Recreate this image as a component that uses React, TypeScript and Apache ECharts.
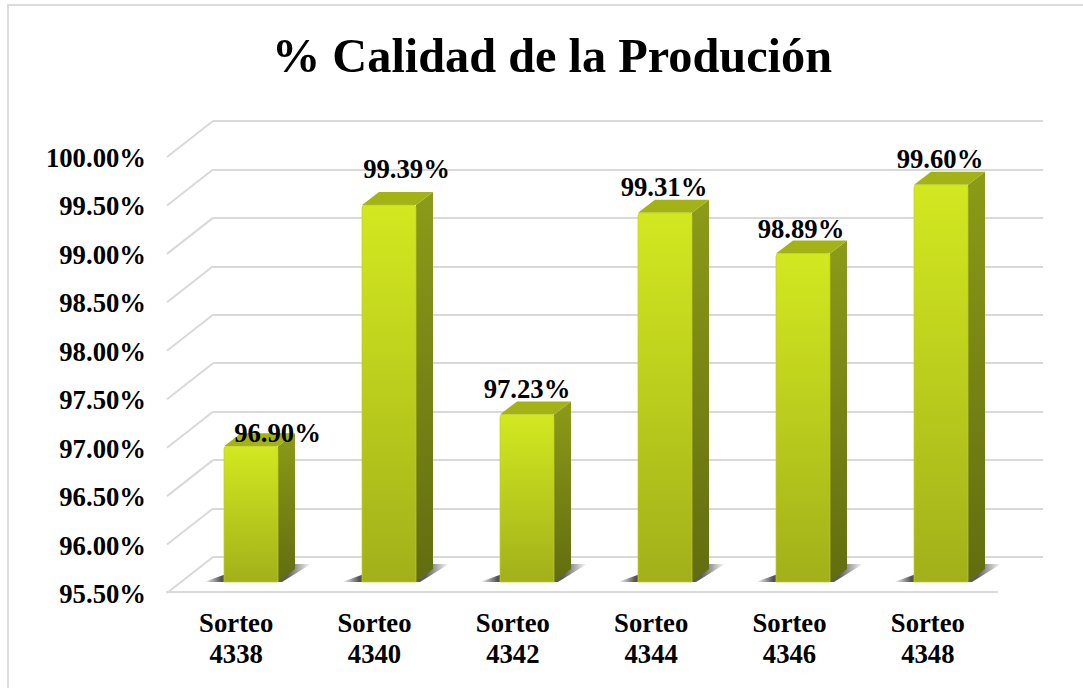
import React, { useEffect, useRef } from "react";
import * as echarts from "echarts";

const titleText = "% Calidad de la Produción";
const categories = ["Sorteo\n4338", "Sorteo\n4340", "Sorteo\n4342", "Sorteo\n4344", "Sorteo\n4346", "Sorteo\n4348"];
const quality = [96.9, 99.39, 97.23, 99.31, 98.89, 99.6];
const valueLabels = ["96.90%", "99.39%", "97.23%", "99.31%", "98.89%", "99.60%"];
const gridTicks = [95.5, 96, 96.5, 97, 97.5, 98, 98.5, 99, 99.5, 100];
const labelShiftX = [26.5, 17.5, 0, -1, -2, -1];
const labelShiftY = [-13, -36, -25, -26, -25, -26];

const AXIS_MIN = 95.5;
const AXIS_MAX = 100;
const PLOT_H = 436;
const SERIF = '"Liberation Serif", "Times New Roman", serif';
const GRID_COLOR = "#d9d9d9";
const DEPTH_X = 46;
const DEPTH_Y = 36;
const BAR_W = 54;
const SIDE_X = 17;
const SIDE_Y = 13;
const FONT_SIZE = 26.7;

const vGrad = (stops: [number, string][]) =>
  new echarts.graphic.LinearGradient(0, 0, 0, 1, stops.map(([offset, color]) => ({ offset, color })));
const hGrad = (stops: [number, string][]) =>
  new echarts.graphic.LinearGradient(0, 0, 1, 0, stops.map(([offset, color]) => ({ offset, color })));

const renderBar = (params: any, api: any) => {
  const i = params.dataIndex;
  const [cx, top] = api.coord([i, api.value(1)]);
  const [, bottom] = api.coord([i, AXIS_MIN]);
  const l = cx - BAR_W / 2;
  const r = cx + BAR_W / 2;
  return {
    type: "group",
    children: [
      {
        type: "polygon",
        shape: {
          points: [
            [l - 20, bottom],
            [r + 4, bottom],
            [r + SIDE_X + 16, bottom - 18],
            [l + 30, bottom - 18],
          ],
        },
        style: {
          fill: hGrad([
            [0, "rgba(75,75,75,0)"],
            [0.16, "rgba(75,75,75,0.95)"],
            [0.78, "rgba(75,75,75,0.9)"],
            [1, "rgba(75,75,75,0)"],
          ]),
        },
      },
      {
        type: "polygon",
        shape: {
          points: [
            [r, top],
            [r + SIDE_X, top - SIDE_Y],
            [r + SIDE_X, bottom - SIDE_Y],
            [r, bottom],
          ],
        },
        style: { fill: vGrad([[0, "#8c9b18"], [1, "#626d10"]]) },
      },
      {
        type: "polygon",
        shape: {
          points: [
            [l, top],
            [l + SIDE_X, top - SIDE_Y],
            [r + SIDE_X, top - SIDE_Y],
            [r, top],
          ],
        },
        style: { fill: "#a3b317" },
      },
      {
        type: "rect",
        shape: { x: l, y: top, width: BAR_W, height: bottom - top, r: [3, 3, 0, 0] },
        style: {
          fill: vGrad([[0, "#d2e820"], [0.12, "#cde21f"], [1, "#a2b01a"]]),
          stroke: "rgba(190,205,40,0.7)",
          lineWidth: 1,
        },
      },
    ],
  };
};

const renderValueLabel = (params: any, api: any) => {
  const i = params.dataIndex;
  const [cx, top] = api.coord([i, api.value(1)]);
  return {
    type: "text",
    z2: 100,
    x: cx + labelShiftX[i],
    y: top + labelShiftY[i],
    style: {
      text: valueLabels[i],
      fill: "#000",
      font: `bold ${FONT_SIZE}px ${SERIF}`,
      align: "center",
      verticalAlign: "middle",
    },
  };
};

const renderSlant = (params: any, api: any) => {
  const [, y] = api.coord([0, api.value(1)]);
  const left = params.coordSys.x;
  return {
    type: "line",
    shape: { x1: left, y1: y, x2: left - DEPTH_X, y2: y + DEPTH_Y },
    style: { stroke: GRID_COLOR, lineWidth: 2 },
  };
};

export default function App() {
  const ref = useRef<HTMLDivElement>(null);
  useEffect(() => {
    document.body.style.margin = "0";
    document.body.style.background = "#fff";
    const chart = echarts.init(ref.current!, null, { renderer: "svg" });
    const yBase = { type: "value", min: AXIS_MIN, max: AXIS_MAX, interval: 0.5 };
    chart.setOption({
      animation: false,
      backgroundColor: "#fff",
      title: {
        text: titleText,
        left: 547,
        top: 26,
        textAlign: "center",
        textStyle: { fontFamily: SERIF, fontWeight: "bold", fontSize: 48.3, color: "#000" },
      },
      graphic: [
        { type: "line", shape: { x1: 7, y1: 5, x2: 1083, y2: 5 }, style: { stroke: "#dcdcdc", lineWidth: 2 } },
        { type: "line", shape: { x1: 8, y1: 5, x2: 8, y2: 688 }, style: { stroke: "#dcdcdc", lineWidth: 2 } },
      ],
      grid: [
        { left: 213, top: 121, width: 830, height: PLOT_H },
        { left: 167, top: 158, width: 830, height: PLOT_H },
        { left: 182, top: 146, width: 828, height: PLOT_H },
      ],
      xAxis: [
        { gridIndex: 0, type: "category", data: categories, show: false },
        {
          gridIndex: 1,
          type: "category",
          data: categories,
          offset: -2,
          axisLine: { show: true, onZero: false, lineStyle: { color: GRID_COLOR, width: 2 } },
          axisTick: { show: false },
          axisLabel: {
            interval: 0,
            margin: 15,
            fontFamily: SERIF,
            fontWeight: "bold",
            fontSize: FONT_SIZE,
            lineHeight: 31,
            color: "#000",
          },
        },
        { gridIndex: 2, type: "category", data: categories, show: false },
      ],
      yAxis: [
        {
          ...yBase,
          gridIndex: 0,
          axisLabel: { show: false },
          axisLine: { show: false },
          axisTick: { show: false },
          splitLine: { show: true, lineStyle: { color: GRID_COLOR, width: 2 } },
        },
        {
          ...yBase,
          gridIndex: 1,
          axisLine: { show: false },
          axisTick: { show: false },
          splitLine: { show: false },
          axisLabel: {
            margin: 21,
            fontFamily: SERIF,
            fontWeight: "bold",
            fontSize: FONT_SIZE,
            color: "#000",
            formatter: (v: number) => `${v.toFixed(2)}%`,
          },
        },
        { ...yBase, gridIndex: 2, show: false },
      ],
      series: [
        {
          type: "custom",
          name: "slants",
          xAxisIndex: 0,
          yAxisIndex: 0,
          silent: true,
          clip: false,
          data: gridTicks.map((t) => [0, t]),
          encode: { x: 0, y: 1 },
          renderItem: renderSlant,
        },
        {
          type: "custom",
          name: "% Calidad",
          xAxisIndex: 2,
          yAxisIndex: 2,
          clip: false,
          data: quality.map((v, i) => [i, v]),
          encode: { x: 0, y: 1 },
          renderItem: renderBar,
        },
        {
          type: "custom",
          name: "labels",
          xAxisIndex: 2,
          yAxisIndex: 2,
          clip: false,
          z: 10,
          data: quality.map((v, i) => [i, v]),
          encode: { x: 0, y: 1 },
          renderItem: renderValueLabel,
        },
      ],
    });
    return () => chart.dispose();
  }, []);
  return <div ref={ref} style={{ width: 1083, height: 688 }} />;
}
